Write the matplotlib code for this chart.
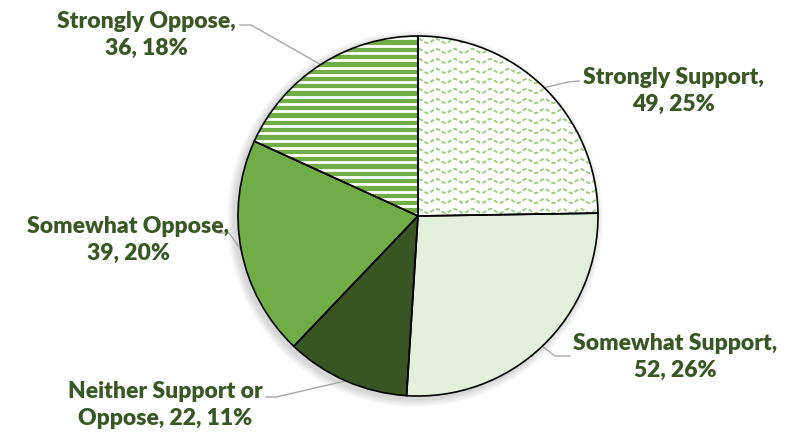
import matplotlib.pyplot as plt
import numpy as np
from matplotlib.patches import Wedge

# survey responses
categories = ["Strongly Support", "Somewhat Support", "Neither Support or\nOppose",
              "Somewhat Oppose", "Strongly Oppose"]
counts = [49, 52, 22, 39, 36]
percents = [25, 26, 11, 20, 18]

colors = ["#ffffff", "#e2efda", "#375623", "#70ad47", "#70ad47"]
text_color = "#385723"

# label placement in pixel units (x, y from top), and leader elbow
label_pos = [(673, 91), (675, 357), (165, 405), (128, 240), (146, 35)]
elbows = [((579, 82), (568, 83)), ((570, 357), (555, 357)), ((266, 398), (276, 398)),
          ((219, 234), (229, 234)), ((240, 26), (251, 26))]

W, H = 794, 435
cx, cy, r = 418, 217, 180

fig = plt.figure(figsize=(W / 100, H / 100), dpi=100)
ax = fig.add_axes([0, 0, 1, 1])

# soft shadow behind the pie
for k in range(8):
    sh = plt.Circle((cx - 3, H - cy - 3), r + 1 + k, color="black", alpha=0.018, lw=0, zorder=0)
    ax.add_patch(sh)

wedges, _ = ax.pie(counts, colors=colors, startangle=90, counterclock=False,
                   center=(cx, H - cy), radius=r, frame=True,
                   wedgeprops=dict(edgecolor="none", linewidth=0, zorder=1))
ax.set_xlim(0, W)
ax.set_ylim(0, H)
ax.set_aspect("equal")
ax.axis("off")

# horizontal white stripes for "Strongly Oppose"
stripe = wedges[4]
for y in np.arange(H - cy - r, H - cy + r, 7.3):
    ln, = ax.plot([cx - r, cx + r], [y, y], color="white", lw=2.0, zorder=2)
    ln.set_clip_path(stripe)

# wavy dashed pattern for "Strongly Support"
wave = wedges[0]
xs = np.linspace(cx - 5, cx + r + 5, 400)
for y in np.arange(H - cy - 5, H - cy + r + 10, 10):
    ln, = ax.plot(xs, y + 2.0 * np.sin(2 * np.pi * xs / 18), color="#a0cc84",
                  lw=1.4, dashes=(2.2, 1.1), zorder=2)
    ln.set_clip_path(wave)

# black outlines on top of the patterns
for w in wedges:
    ax.add_patch(Wedge(w.center, w.r, w.theta1, w.theta2, facecolor="none",
                       edgecolor="black", linewidth=1.2, zorder=3))

theta = np.cumsum([0] + counts)
total = sum(counts)
for i, (cat, n, p) in enumerate(zip(categories, counts, percents)):
    mid = np.deg2rad((theta[i] + theta[i + 1]) / 2 / total * 360)
    ex, ey = cx + r * np.sin(mid), cy - r * np.cos(mid)
    (ax1, ay1), (ax2, ay2) = elbows[i]
    ax.plot([ax1, ax2, ex], [H - ay1, H - ay2, H - ey], color="#a6a6a6", lw=1.0, zorder=1)
    if "\n" in cat:
        txt = f"{cat}, {n}, {p}%"
    else:
        txt = f"{cat},\n{n}, {p}%"
    tx, ty = label_pos[i]
    ax.text(tx, H - ty, txt, ha="center", va="center", color=text_color,
            fontsize=16.5, fontweight="heavy", family="Lato", linespacing=1.4, zorder=5)

fig.savefig("out.png", dpi=100)
